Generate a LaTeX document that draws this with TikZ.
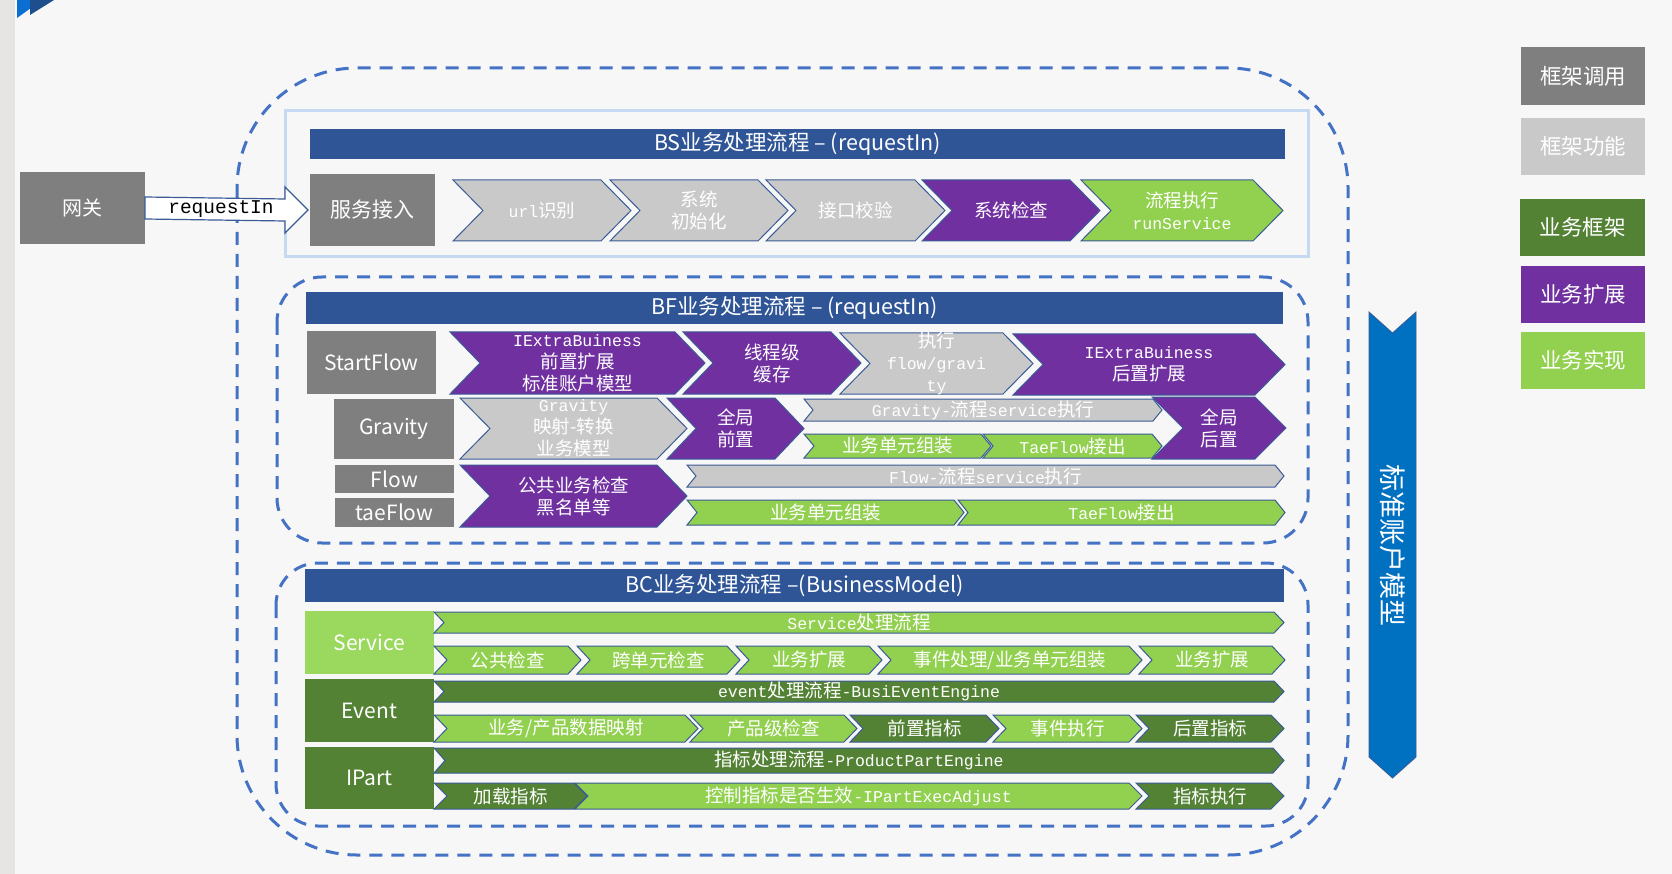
\documentclass[tikz,border=0pt]{standalone}
\usepackage{fontspec}
\setmainfont{Noto Sans CJK SC}
\newfontfamily\mono{Liberation Mono}
\usetikzlibrary{calc}
\definecolor{bgc}{HTML}{F7F7F7}
\definecolor{stripc}{HTML}{E6E5E3}
\definecolor{hdrc}{HTML}{2F5597}
\definecolor{cgray}{HTML}{C9C9C9}
\definecolor{dgray}{HTML}{7F7F7F}
\definecolor{cpur}{HTML}{7030A0}
\definecolor{clg}{HTML}{92D050}
\definecolor{clgbox}{HTML}{9AD85E}
\definecolor{cdg}{HTML}{548235}
\definecolor{dashblue}{HTML}{4472C4}
\definecolor{edgec}{HTML}{3A5B96}
\definecolor{bsbd}{HTML}{C5D9F1}
\definecolor{varrow}{HTML}{0070C0}
\definecolor{logoa}{HTML}{0A6FD0}
\definecolor{logob}{HTML}{1F4E8C}
\newcommand\latmono[1]{{\mono\fontsize{16.5}{22}\selectfont #1}}
% chevron: name, L, R, top, bottom, depth, style, text
\newcommand\chev[8]{%
  \draw[chevline,#7] (#2,#4) -- ({#3-#6},#4) -- (#3,{(#4+#5)/2}) -- ({#3-#6},#5) -- (#2,#5) -- ({#2+#6},{(#4+#5)/2}) -- cycle;
  \node[chevtxt] (#1) at ({(#2+#3)/2},{(#4+#5)/2}) {#8};
}
% rectangle node: name, x1, y1, x2, y2, style, text
\newcommand\rectnode[7]{%
  \node[#6, minimum width={#4-#2}, minimum height={#5-#3}] (#1) at ({(#2+#4)/2},{(#3+#5)/2}) {#7};
}
\begin{document}
\begin{tikzpicture}[x=1pt,y=-1pt,
  chevline/.style={draw=edgec, line width=1pt},
  gry/.style={fill=cgray},
  pur/.style={fill=cpur},
  lg/.style={fill=clg},
  dg/.style={fill=cdg},
  chevtxt/.style={text=white, align=center, inner sep=0pt, font=\fontsize{18.5}{22}\selectfont},
  plain/.style={inner sep=0pt, outer sep=0pt, draw=none, text=white, align=center},
  graybox/.style={plain, fill=dgray, font=\fontsize{21}{23}\selectfont},
  hdrbar/.style={plain, fill=hdrc, font=\fontsize{21.5}{23}\selectfont},
  legbox/.style={plain, font=\fontsize{21.5}{23}\selectfont},
  dashframe/.style={draw=dashblue, line width=3pt, dash pattern=on 13pt off 9pt}
]
\fill[bgc] (0,0) rectangle (1672,874);
\useasboundingbox (0,0) rectangle (1672,874);
\fill[stripc] (0,0) rectangle (15,874);
% logo
\fill[logoa] (17,0) -- (42,0) -- (17,18) -- cycle;
\fill[logob] (30,0) -- (54,0) -- (30,15) -- cycle;

% outer dashed frame
\draw[dashframe, rounded corners=120pt] (237,68) rectangle (1348,855);

% BS block
\draw[bsbd, line width=3pt] (285,111) rectangle (1308,257);
\rectnode{bsh}{310}{129}{1285}{159}{hdrbar}{BS业务处理流程 – (requestIn)}

% gateway and arrow
\rectnode{gw}{20}{172}{145}{244}{graybox, font=\fontsize{20}{22}\selectfont}{网关}
\rectnode{fwjr}{310}{174}{435}{246}{graybox}{服务接入}
\draw[fill=white, draw=edgec, line width=1.2pt]
  ($(gw.east)+(0,-11)$) -- ($(fwjr.west)+(-25,-11)$) -- ($(fwjr.west)+(-25,-23)$)
  -- ($(fwjr.west)+(-2,0)$) -- ($(fwjr.west)+(-25,23)$) -- ($(fwjr.west)+(-25,11)$)
  -- ($(gw.east)+(0,11)$) -- cycle;
\node[inner sep=0pt, font=\mono\fontsize{19.5}{20}\selectfont] (rq) at (221,209) {requestIn};

\chev{bs1}{453}{631}{180}{241}{30}{gry}{\latmono{url}识别}
\chev{bs2}{610}{788}{180}{241}{30}{gry}{系统\\初始化}
\chev{bs3}{766}{945}{180}{241}{30}{gry}{接口校验}
\chev{bs4}{922}{1100}{180}{241}{30}{pur}{系统检查}
\chev{bs5}{1081}{1283}{180}{241}{30}{lg}{流程执行\\\latmono{runService}}

% BF block
\draw[dashframe, rounded corners=45pt] (277,277) rectangle (1308,543);
\rectnode{bfh}{306}{292}{1283}{324}{hdrbar}{BF业务处理流程 – (requestIn)}
\rectnode{sf}{307}{331}{436}{394}{graybox}{StartFlow}
\chev{bf1}{450}{705}{332}{394}{30}{pur}{\latmono{IExtraBuiness}\\前置扩展\\标准账户模型}
\chev{bf2}{683}{861}{332}{394}{30}{pur}{线程级\\缓存}
\chev{bf3}{840}{1033}{333}{394}{30}{gry}{执行\\\latmono{flow/gravi}\\\latmono{ty}}
\chev{bf4}{1013}{1285}{334}{395}{30}{pur}{\latmono{IExtraBuiness}\\后置扩展}

\rectnode{gv}{334}{399}{454}{459}{graybox}{Gravity}
\chev{gv1}{460}{687}{398}{459}{30}{gry}{\latmono{Gravity}\\映射-转换\\业务模型}
\chev{gv2}{667}{804}{398}{459}{29}{pur}{全局\\前置}
\chev{gv3}{804}{1162}{399}{421}{9}{gry}{\latmono{Gravity-}流程\latmono{service}执行}
\chev{gv4}{804}{991}{434}{458}{10}{lg}{业务单元组装}
\chev{gv5}{983}{1162}{434}{458}{10}{lg}{\latmono{TaeFlow}接出}
\chev{gv6}{1152}{1286}{397}{459}{31}{pur}{全局\\后置}

\rectnode{fl}{335}{465}{454}{493}{graybox}{Flow}
\rectnode{tf}{335}{498}{454}{527}{graybox}{taeFlow}
\chev{fl1}{460}{687}{465}{527}{30}{pur}{公共业务检查\\黑名单等}
\chev{fl2}{687}{1284}{465}{487}{9}{gry}{\latmono{Flow-}流程\latmono{service}执行}
\chev{fl3}{687}{964}{500}{525}{10}{lg}{业务单元组装}
\chev{fl4}{958}{1285}{500}{525}{10}{lg}{\latmono{TaeFlow}接出}

% BC block
\draw[dashframe, rounded corners=42pt] (276,563) rectangle (1308,826);
\rectnode{bch}{305}{569}{1284}{602}{hdrbar}{BC业务处理流程 –(BusinessModel)}
\rectnode{sv}{305}{611}{434}{674}{plain, fill=clgbox, font=\fontsize{21}{23}\selectfont}{Service}
\rectnode{ev}{305}{679}{434}{742}{plain, fill=cdg, font=\fontsize{21}{23}\selectfont}{Event}
\rectnode{ip}{305}{747}{434}{809}{plain, fill=cdg, font=\fontsize{21}{23}\selectfont}{IPart}

\chev{sv0}{434}{1284}{612}{633}{10}{lg}{\latmono{Service}处理流程}
\chev{sv1}{434}{581}{646}{674}{13}{lg}{公共检查}
\chev{sv2}{577}{740}{646}{674}{13}{lg}{跨单元检查}
\chev{sv3}{736}{882}{646}{674}{13}{lg}{业务扩展}
\chev{sv4}{878}{1142}{646}{674}{13}{lg}{事件处理/业务单元组装}
\chev{sv5}{1139}{1285}{646}{674}{13}{lg}{业务扩展}

\chev{ev0}{434}{1284}{681}{702}{10}{dg}{\latmono{event}处理流程\latmono{-BusiEventEngine}}
\chev{ev1}{434}{698}{715}{742}{13}{lg}{业务/产品数据映射}
\chev{ev2}{690}{857}{715}{742}{13}{lg}{产品级检查}
\chev{ev3}{850}{999}{715}{742}{13}{dg}{前置指标}
\chev{ev4}{993}{1142}{715}{742}{13}{lg}{事件执行}
\chev{ev5}{1136}{1284}{715}{742}{13}{dg}{后置指标}

\chev{ip0}{434}{1284}{748}{773}{11}{dg}{指标处理流程\latmono{-ProductPartEngine}}
\chev{ip1}{434}{587}{783}{809}{13}{dg}{加载指标}
\chev{ip2}{575}{1142}{783}{809}{13}{lg}{控制指标是否生效\latmono{-IPartExecAdjust}}
\chev{ip3}{1136}{1284}{783}{809}{13}{dg}{指标执行}

% vertical arrow
\draw[fill=varrow, draw=edgec, line width=0.8pt] (1369,312) -- (1392.5,333) -- (1416,312) -- (1416,757) -- (1392.5,778) -- (1369,757) -- cycle;
\node[rotate=-90, text=white, inner sep=0pt, font=\fontsize{27}{29}\selectfont] (std) at (1392.5,545) {标准账户模型};

% legend
\rectnode{lg1}{1521}{47}{1645}{105}{legbox, fill=dgray}{框架调用}
\rectnode{lg2}{1521}{118}{1645}{175}{legbox, fill=cgray}{框架功能}
\rectnode{lg3}{1520}{199}{1645}{256}{legbox, fill=cdg}{业务框架}
\rectnode{lg4}{1521}{266}{1645}{323}{legbox, fill=cpur}{业务扩展}
\rectnode{lg5}{1521}{332}{1645}{389}{legbox, fill=clg}{业务实现}
\end{tikzpicture}
\end{document}
